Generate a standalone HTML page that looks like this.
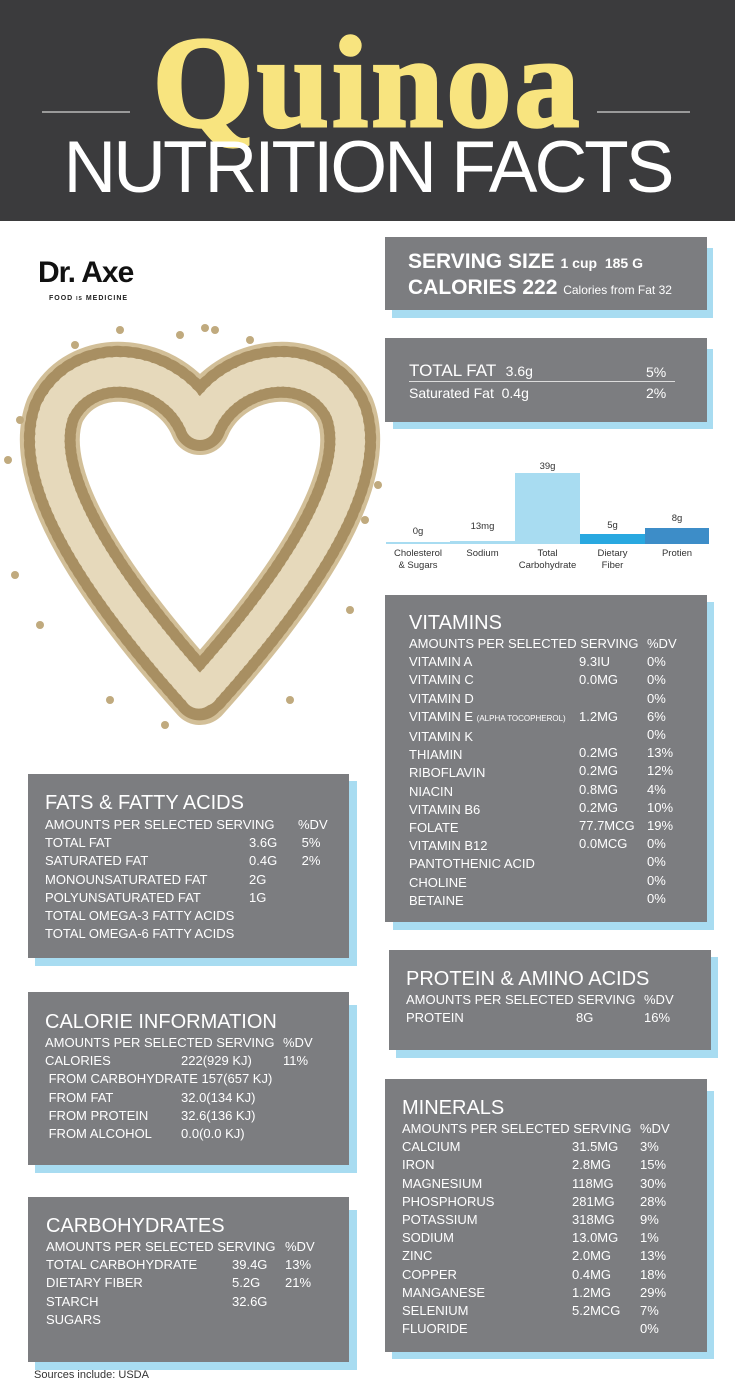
<!DOCTYPE html>
<html><head><meta charset="utf-8"><style>
*{margin:0;padding:0;box-sizing:border-box}
body{width:735px;height:1400px;position:relative;background:#fff;font-family:"Liberation Sans",sans-serif;overflow:hidden}
.a{position:absolute;white-space:nowrap}
.hdr{left:0;top:0;width:735px;height:221px;background:#3b3b3d}
.g{position:absolute;background:#7c7d80}
.b{position:absolute;background:#a8dcf1}
.t{position:absolute;color:#fff;font-size:13px;line-height:18px;white-space:nowrap}
.h{position:absolute;color:#fff;font-size:20px;line-height:22px;white-space:nowrap}
.lbl{position:absolute;font-size:9.5px;color:#333;text-align:center;line-height:12px}
</style></head><body>
<div class="a hdr"></div>
<div class="a" style="left:42px;top:111px;width:88px;height:2px;background:#9a9a9a"></div>
<div class="a" style="left:597px;top:111px;width:93px;height:2px;background:#9a9a9a"></div>
<div class="a" style="left:0;width:735px;text-align:center;top:16px;font-family:'Liberation Serif',serif;font-weight:bold;font-size:130px;line-height:134px;color:#f8e47f;letter-spacing:3px;-webkit-text-stroke:3px #f8e47f">Quinoa</div>
<div class="a" style="left:0;width:735px;text-align:center;top:130px;font-size:73px;line-height:76px;color:#fff;letter-spacing:-3px">NUTRITION FACTS</div>

<div class="a" style="left:38px;top:256px;font-size:30px;font-weight:bold;color:#111;letter-spacing:-1px">Dr. Axe</div>
<div class="a" style="left:49px;top:295px;font-size:7px;font-weight:bold;color:#222;letter-spacing:1px">FOOD <span style="font-size:5px">IS</span> MEDICINE</div>

<svg class="a" style="left:0;top:300px" width="390" height="450" viewBox="0 300 390 450">
<path d="M200 425 C 175 365, 85 350, 55 410 C 28 480, 110 595, 200 695 C 290 595, 372 480, 345 410 C 315 350, 225 365, 200 425 Z" fill="none" stroke="#d2bf98" stroke-width="60" stroke-linejoin="round"/>
<path d="M200 425 C 175 365, 85 350, 55 410 C 28 480, 110 595, 200 695 C 290 595, 372 480, 345 410 C 315 350, 225 365, 200 425 Z" fill="none" stroke="#a88f62" stroke-width="52" stroke-dasharray="0 8" stroke-linecap="round" stroke-linejoin="round"/>
<path d="M200 425 C 175 365, 85 350, 55 410 C 28 480, 110 595, 200 695 C 290 595, 372 480, 345 410 C 315 350, 225 365, 200 425 Z" fill="none" stroke="#e6d9bb" stroke-width="30" stroke-dasharray="0 7" stroke-linecap="round" stroke-linejoin="round"/>
<g fill="#c0aa7e">
<circle cx="205" cy="328" r="4"/><circle cx="75" cy="345" r="4"/><circle cx="20" cy="420" r="4"/><circle cx="8" cy="460" r="4"/><circle cx="15" cy="575" r="4"/><circle cx="365" cy="520" r="4"/><circle cx="378" cy="485" r="4"/><circle cx="110" cy="700" r="4"/><circle cx="290" cy="700" r="4"/><circle cx="165" cy="725" r="4"/><circle cx="250" cy="340" r="4"/><circle cx="120" cy="330" r="4"/><circle cx="350" cy="610" r="4"/><circle cx="40" cy="625" r="4"/><circle cx="215" cy="330" r="4"/><circle cx="180" cy="335" r="4"/>
</g>
</svg>

<!-- serving -->
<div class="b" style="left:392px;top:248px;width:321px;height:70px"></div>
<div class="g" style="left:385px;top:237px;width:322px;height:73px"></div>
<div class="a" style="left:408px;top:250px;color:#fff;font-size:21px;font-weight:bold;line-height:24px">SERVING SIZE <span style="font-size:14px">1 cup&nbsp; 185 G</span></div>
<div class="a" style="left:408px;top:276px;color:#fff;font-size:21px;font-weight:bold;line-height:24px">CALORIES 222 <span style="font-size:12px;font-weight:normal">Calories from Fat 32</span></div>

<!-- total fat -->
<div class="b" style="left:393px;top:349px;width:320px;height:80px"></div>
<div class="g" style="left:385px;top:338px;width:322px;height:84px"></div>
<div class="a" style="left:409px;top:361px;color:#fff;font-size:17px;line-height:20px">TOTAL FAT&nbsp; <span style="font-size:14px">3.6g</span></div>
<div class="a" style="left:646px;top:363px;color:#fff;font-size:14px;line-height:18px">5%</div>
<div class="a" style="left:409px;top:381px;width:266px;height:1px;background:#ddd"></div>
<div class="a" style="left:409px;top:384px;color:#fff;font-size:14px;line-height:18px">Saturated Fat&nbsp; 0.4g</div>
<div class="a" style="left:646px;top:384px;color:#fff;font-size:14px;line-height:18px">2%</div>

<!-- chart -->
<div class="a" style="left:386px;top:542px;width:64px;height:2px;background:#a8dcf1"></div>
<div class="a" style="left:450px;top:541px;width:65px;height:3px;background:#a8dcf1"></div>
<div class="a" style="left:515px;top:473px;width:65px;height:71px;background:#a8dcf1"></div>
<div class="a" style="left:580px;top:534px;width:65px;height:10px;background:#29a8e0"></div>
<div class="a" style="left:645px;top:528px;width:64px;height:16px;background:#3d8dc8"></div>
<div class="lbl" style="left:386px;top:526px;width:64px">0g</div>
<div class="lbl" style="left:450px;top:521px;width:65px">13mg</div>
<div class="lbl" style="left:515px;top:461px;width:65px">39g</div>
<div class="lbl" style="left:580px;top:520px;width:65px">5g</div>
<div class="lbl" style="left:645px;top:513px;width:64px">8g</div>
<div class="lbl" style="left:386px;top:548px;width:64px">Cholesterol<br>&amp; Sugars</div>
<div class="lbl" style="left:450px;top:548px;width:65px">Sodium</div>
<div class="lbl" style="left:515px;top:548px;width:65px">Total<br>Carbohydrate</div>
<div class="lbl" style="left:580px;top:548px;width:65px">Dietary<br>Fiber</div>
<div class="lbl" style="left:645px;top:548px;width:64px">Protien</div>

<!-- vitamins -->
<div class="b" style="left:393px;top:602px;width:321px;height:328px"></div>
<div class="g" style="left:385px;top:595px;width:322px;height:327px"></div>
<div class="h" style="left:409px;top:612px">VITAMINS</div>
<div class="t" style="left:409px;top:635px;line-height:18.2px">AMOUNTS PER SELECTED SERVING<br>VITAMIN A<br>VITAMIN C<br>VITAMIN D<br>VITAMIN E <span style="font-size:8px">(ALPHA TOCOPHEROL)</span><br>VITAMIN K<br>THIAMIN<br>RIBOFLAVIN<br>NIACIN<br>VITAMIN B6<br>FOLATE<br>VITAMIN B12<br>PANTOTHENIC ACID<br>CHOLINE<br>BETAINE</div>
<div class="t" style="left:579px;top:635px;line-height:18.2px"><br>9.3IU<br>0.0MG<br><br>1.2MG<br><br>0.2MG<br>0.2MG<br>0.8MG<br>0.2MG<br>77.7MCG<br>0.0MCG</div>
<div class="t" style="left:647px;top:635px;line-height:18.2px">%DV<br>0%<br>0%<br>0%<br>6%<br>0%<br>13%<br>12%<br>4%<br>10%<br>19%<br>0%<br>0%<br>0%<br>0%</div>

<!-- fats -->
<div class="b" style="left:35px;top:781px;width:322px;height:185px"></div>
<div class="g" style="left:28px;top:774px;width:321px;height:184px"></div>
<div class="h" style="left:45px;top:792px">FATS &amp; FATTY ACIDS</div>
<div class="t" style="left:45px;top:816px;line-height:18.2px">AMOUNTS PER SELECTED SERVING<br>TOTAL FAT<br>SATURATED FAT<br>MONOUNSATURATED FAT<br>POLYUNSATURATED FAT<br>TOTAL OMEGA-3 FATTY ACIDS<br>TOTAL OMEGA-6 FATTY ACIDS</div>
<div class="t" style="left:249px;top:816px;line-height:18.2px"><br>3.6G<br>0.4G<br>2G<br>1G</div>
<div class="t" style="left:298px;top:816px;line-height:18.2px">%DV<br>&nbsp;5%<br>&nbsp;2%</div>

<!-- calories -->
<div class="b" style="left:35px;top:1005px;width:322px;height:168px"></div>
<div class="g" style="left:28px;top:992px;width:321px;height:173px"></div>
<div class="h" style="left:45px;top:1011px">CALORIE INFORMATION</div>
<div class="t" style="left:45px;top:1034px;line-height:18.2px">AMOUNTS PER SELECTED SERVING<br>CALORIES<br>&nbsp;FROM CARBOHYDRATE 157(657 KJ)<br>&nbsp;FROM FAT<br>&nbsp;FROM PROTEIN<br>&nbsp;FROM ALCOHOL</div>
<div class="t" style="left:181px;top:1034px;line-height:18.2px"><br>222(929 KJ)<br><br>32.0(134 KJ)<br>32.6(136 KJ)<br>0.0(0.0 KJ)</div>
<div class="t" style="left:283px;top:1034px;line-height:18.2px">%DV<br>11%</div>

<!-- carbs -->
<div class="b" style="left:35px;top:1210px;width:322px;height:160px"></div>
<div class="g" style="left:28px;top:1197px;width:321px;height:165px"></div>
<div class="h" style="left:46px;top:1215px">CARBOHYDRATES</div>
<div class="t" style="left:46px;top:1238px;line-height:18.2px">AMOUNTS PER SELECTED SERVING<br>TOTAL CARBOHYDRATE<br>DIETARY FIBER<br>STARCH<br>SUGARS</div>
<div class="t" style="left:232px;top:1238px;line-height:18.2px"><br>39.4G<br>5.2G<br>32.6G</div>
<div class="t" style="left:285px;top:1238px;line-height:18.2px">%DV<br>13%<br>21%</div>
<div class="a" style="left:34px;top:1369px;font-size:11px;color:#333">Sources include: USDA</div>

<!-- protein -->
<div class="b" style="left:396px;top:957px;width:322px;height:101px"></div>
<div class="g" style="left:389px;top:950px;width:322px;height:100px"></div>
<div class="h" style="left:406px;top:968px">PROTEIN &amp; AMINO ACIDS</div>
<div class="t" style="left:406px;top:991px;line-height:18.2px">AMOUNTS PER SELECTED SERVING<br>PROTEIN</div>
<div class="t" style="left:576px;top:991px;line-height:18.2px"><br>8G</div>
<div class="t" style="left:644px;top:991px;line-height:18.2px">%DV<br>16%</div>

<!-- minerals -->
<div class="b" style="left:392px;top:1091px;width:322px;height:268px"></div>
<div class="g" style="left:385px;top:1079px;width:322px;height:273px"></div>
<div class="h" style="left:402px;top:1097px">MINERALS</div>
<div class="t" style="left:402px;top:1120px;line-height:18.2px">AMOUNTS PER SELECTED SERVING<br>CALCIUM<br>IRON<br>MAGNESIUM<br>PHOSPHORUS<br>POTASSIUM<br>SODIUM<br>ZINC<br>COPPER<br>MANGANESE<br>SELENIUM<br>FLUORIDE</div>
<div class="t" style="left:572px;top:1120px;line-height:18.2px"><br>31.5MG<br>2.8MG<br>118MG<br>281MG<br>318MG<br>13.0MG<br>2.0MG<br>0.4MG<br>1.2MG<br>5.2MCG</div>
<div class="t" style="left:640px;top:1120px;line-height:18.2px">%DV<br>3%<br>15%<br>30%<br>28%<br>9%<br>1%<br>13%<br>18%<br>29%<br>7%<br>0%</div>
</body></html>
